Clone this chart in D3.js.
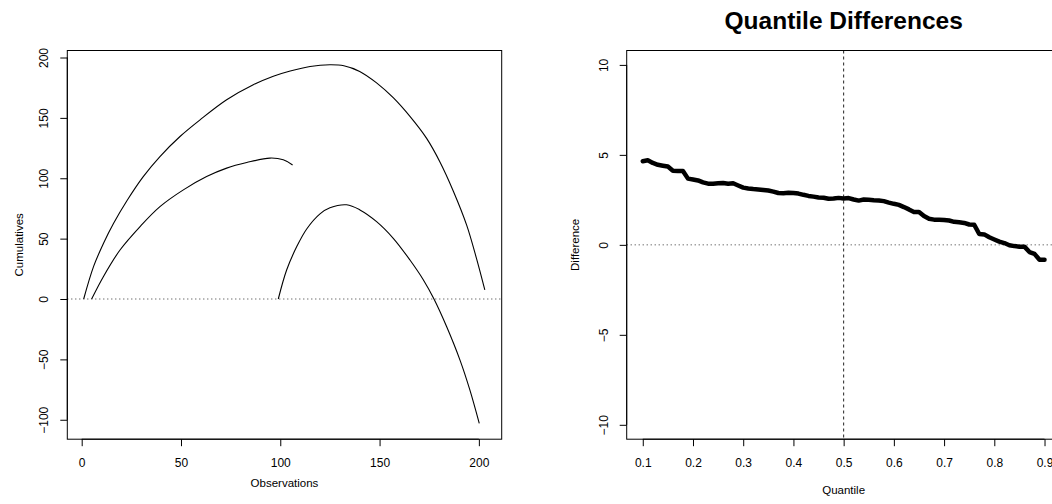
<!DOCTYPE html>
<html>
<head>
<meta charset="utf-8">
<script src="https://cdn.jsdelivr.net/npm/d3@7"></script>
<style>
  html, body { margin: 0; padding: 0; background: #fff; }
  svg { display: block; font-family: "Liberation Sans", Arial, Helvetica, sans-serif; }
</style>
</head>
<body>
<svg id="chart" width="1052" height="504"></svg>
<script>
// ---- Left panel: cumulative paths over observations ----
const obsA = [1, 6, 11, 16, 23, 31, 39.4, 49.5, 59.6, 73, 86.4, 96.5, 105, 115, 125, 132, 140, 148.5, 157, 165.3, 173.7, 180.4, 187.1, 193.9, 198.9, 203];
const cumA = [0, 27, 46.2, 62.5, 82, 101.4, 118, 134.6, 148.4, 165, 177.4, 184.5, 188.8, 192.6, 194, 193.2, 188.5, 179, 166.5, 151.2, 133, 113.5, 89.5, 61, 33, 7.5];
const obsB = [5, 10.9, 19.3, 29.4, 39.4, 51.2, 62.9, 73, 83.1, 94.8, 101.5, 106.2];
const cumB = [0, 18.5, 40.6, 60, 76.5, 90.4, 101.4, 108.4, 113, 116.7, 115.3, 111];
const obsC = [99, 103.2, 108.3, 113.3, 120, 125, 133.4, 140.1, 148.5, 156.9, 165.3, 172, 177.4, 183.8, 190.5, 195.5, 200.2];
const cumC = [0, 24, 43.4, 58, 70.5, 75.5, 78, 73.8, 64.1, 50.3, 32.3, 16, 0, -23, -50.6, -75.5, -103];
const obsTicks = [0, 50, 100, 150, 200];
const cumTicks = [-100, -50, 0, 50, 100, 150, 200];

// ---- Right panel: quantile differences ----
const quantiles = d3.range(10, 91).map(k => k / 100);
const differences = [
  4.65, 4.70, 4.55, 4.45, 4.40, 4.35, 4.12, 4.10, 4.10, 3.68,
  3.63, 3.58, 3.47, 3.40, 3.40, 3.42, 3.44, 3.40, 3.42, 3.30,
  3.18, 3.13, 3.10, 3.08, 3.05, 3.02, 2.96, 2.88, 2.87, 2.89,
  2.88, 2.85, 2.78, 2.72, 2.68, 2.63, 2.62, 2.56, 2.57, 2.61,
  2.58, 2.60, 2.52, 2.46, 2.52, 2.50, 2.48, 2.47, 2.43, 2.35,
  2.28, 2.22, 2.10, 1.97, 1.83, 1.83, 1.60, 1.45, 1.40, 1.39,
  1.38, 1.35, 1.28, 1.25, 1.22, 1.13, 1.12, 0.60, 0.58, 0.42,
  0.30, 0.18, 0.10, -0.02, -0.07, -0.10, -0.10, -0.40, -0.50, -0.83,
  -0.83
];
const quantileTicks = [0.1, 0.2, 0.3, 0.4, 0.5, 0.6, 0.7, 0.8, 0.9];
const diffTicks = [-10, -5, 0, 5, 10];

const svg = d3.select("#chart");
const minus = s => String(s).replace("-", "\u2212");

const plotTop = 50.5, plotBottom = 439.2;

// ---------- Left panel ----------
const xL = d3.scaleLinear().domain([-7.25, 211.5]).range([67.3, 501.7]);
const yL = d3.scaleLinear().domain([-116.1, 205.8]).range([plotBottom, plotTop]);

const gL = svg.append("g");
// zero reference line
gL.append("line")
  .attr("x1", xL.range()[0]).attr("x2", xL.range()[1])
  .attr("y1", yL(0)).attr("y2", yL(0))
  .attr("stroke", "#333").attr("stroke-width", 1).attr("stroke-dasharray", "1,3");

const lineL = d3.line().x(d => xL(d[0])).y(d => yL(d[1])).curve(d3.curveCatmullRom.alpha(0.5));
[[obsA, cumA], [obsB, cumB], [obsC, cumC]].forEach(([xs, ys]) => {
  gL.append("path")
    .datum(xs.map((x, i) => [x, ys[i]]))
    .attr("fill", "none").attr("stroke", "#000").attr("stroke-width", 1.1)
    .attr("d", lineL);
});

gL.append("rect")
  .attr("x", xL.range()[0]).attr("y", plotTop)
  .attr("width", xL.range()[1] - xL.range()[0]).attr("height", plotBottom - plotTop)
  .attr("fill", "none").attr("stroke", "#000").attr("stroke-width", 1);

const axBL = gL.append("g").attr("transform", `translate(0,${plotBottom})`)
  .call(d3.axisBottom(xL).tickValues(obsTicks).tickSize(7).tickPadding(12).tickFormat(d => minus(d)));
const axLL = gL.append("g").attr("transform", `translate(${xL.range()[0]},0)`)
  .call(d3.axisLeft(yL).tickValues(cumTicks).tickSize(7).tickFormat(d => minus(d)));

gL.append("text").attr("x", (xL.range()[0] + xL.range()[1]) / 2).attr("y", 487)
  .attr("text-anchor", "middle").attr("font-size", 11.5).text("Observations");
gL.append("text").attr("transform", `translate(22.5,${(plotTop + plotBottom) / 2}) rotate(-90)`)
  .attr("text-anchor", "middle").attr("font-size", 11.5).text("Cumulatives");

// ---------- Right panel ----------
const xR = d3.scaleLinear().domain([0.068, 0.932]).range([626.7, 1060.6]);
const yR = d3.scaleLinear().domain([-10.8, 10.8]).range([plotBottom, plotTop]);

const gR = svg.append("g");
gR.append("line")
  .attr("x1", xR.range()[0]).attr("x2", xR.range()[1])
  .attr("y1", yR(0)).attr("y2", yR(0))
  .attr("stroke", "#333").attr("stroke-width", 1).attr("stroke-dasharray", "1,3");
gR.append("line")
  .attr("x1", xR(0.5)).attr("x2", xR(0.5))
  .attr("y1", plotTop).attr("y2", plotBottom)
  .attr("stroke", "#222").attr("stroke-width", 1).attr("stroke-dasharray", "3,3");

const lineR = d3.line().x(d => xR(d[0])).y(d => yR(d[1]));
gR.append("path")
  .datum(quantiles.map((q, i) => [q, differences[i]]))
  .attr("fill", "none").attr("stroke", "#000").attr("stroke-width", 4.5)
  .attr("stroke-linejoin", "round").attr("stroke-linecap", "round")
  .attr("d", lineR);

gR.append("rect")
  .attr("x", xR.range()[0]).attr("y", plotTop)
  .attr("width", xR.range()[1] - xR.range()[0]).attr("height", plotBottom - plotTop)
  .attr("fill", "none").attr("stroke", "#000").attr("stroke-width", 1);

const axBR = gR.append("g").attr("transform", `translate(0,${plotBottom})`)
  .call(d3.axisBottom(xR).tickValues(quantileTicks).tickSize(7).tickPadding(12).tickFormat(d3.format(".1f")));
const axLR = gR.append("g").attr("transform", `translate(${xR.range()[0]},0)`)
  .call(d3.axisLeft(yR).tickValues(diffTicks).tickSize(7).tickFormat(d => minus(d)));

gR.append("text").attr("x", (xR.range()[0] + xR.range()[1]) / 2).attr("y", 494)
  .attr("text-anchor", "middle").attr("font-size", 11.5).text("Quantile");
gR.append("text").attr("transform", `translate(578.5,${(plotTop + plotBottom) / 2}) rotate(-90)`)
  .attr("text-anchor", "middle").attr("font-size", 11.5).text("Difference");
gR.append("text").attr("x", (xR.range()[0] + xR.range()[1]) / 2).attr("y", 29)
  .attr("text-anchor", "middle").attr("font-size", 24.5).attr("font-weight", "bold")
  .text("Quantile Differences");

// base-graphics style axes: no domain path, rotated y tick labels, black text
[axBL, axLL, axBR, axLR].forEach(ax => {
  ax.select(".domain").remove();
  ax.selectAll(".tick line").attr("stroke", "#000");
  ax.selectAll(".tick text").attr("fill", "#000").attr("font-size", 12)
    .attr("font-family", "Liberation Sans, Arial, sans-serif");
});
[axLL, axLR].forEach(ax => {
  ax.selectAll(".tick text")
    .attr("x", null).attr("dy", null)
    .attr("text-anchor", "middle")
    .attr("transform", "translate(-19,0) rotate(-90)");
});
// axis line running from the first to the last tick
function axisSpan(g, scale, ticks, horizontal) {
  const a = scale(ticks[0]), b = scale(ticks[ticks.length - 1]);
  g.append("line")
    .attr(horizontal ? "x1" : "y1", a).attr(horizontal ? "x2" : "y2", b)
    .attr(horizontal ? "y1" : "x1", 0).attr(horizontal ? "y2" : "x2", 0)
    .attr("stroke", "#000");
}
axisSpan(axBL, xL, obsTicks, true);
axisSpan(axLL, yL, cumTicks, false);
axisSpan(axBR, xR, quantileTicks, true);
axisSpan(axLR, yR, diffTicks, false);
</script>
</body>
</html>
